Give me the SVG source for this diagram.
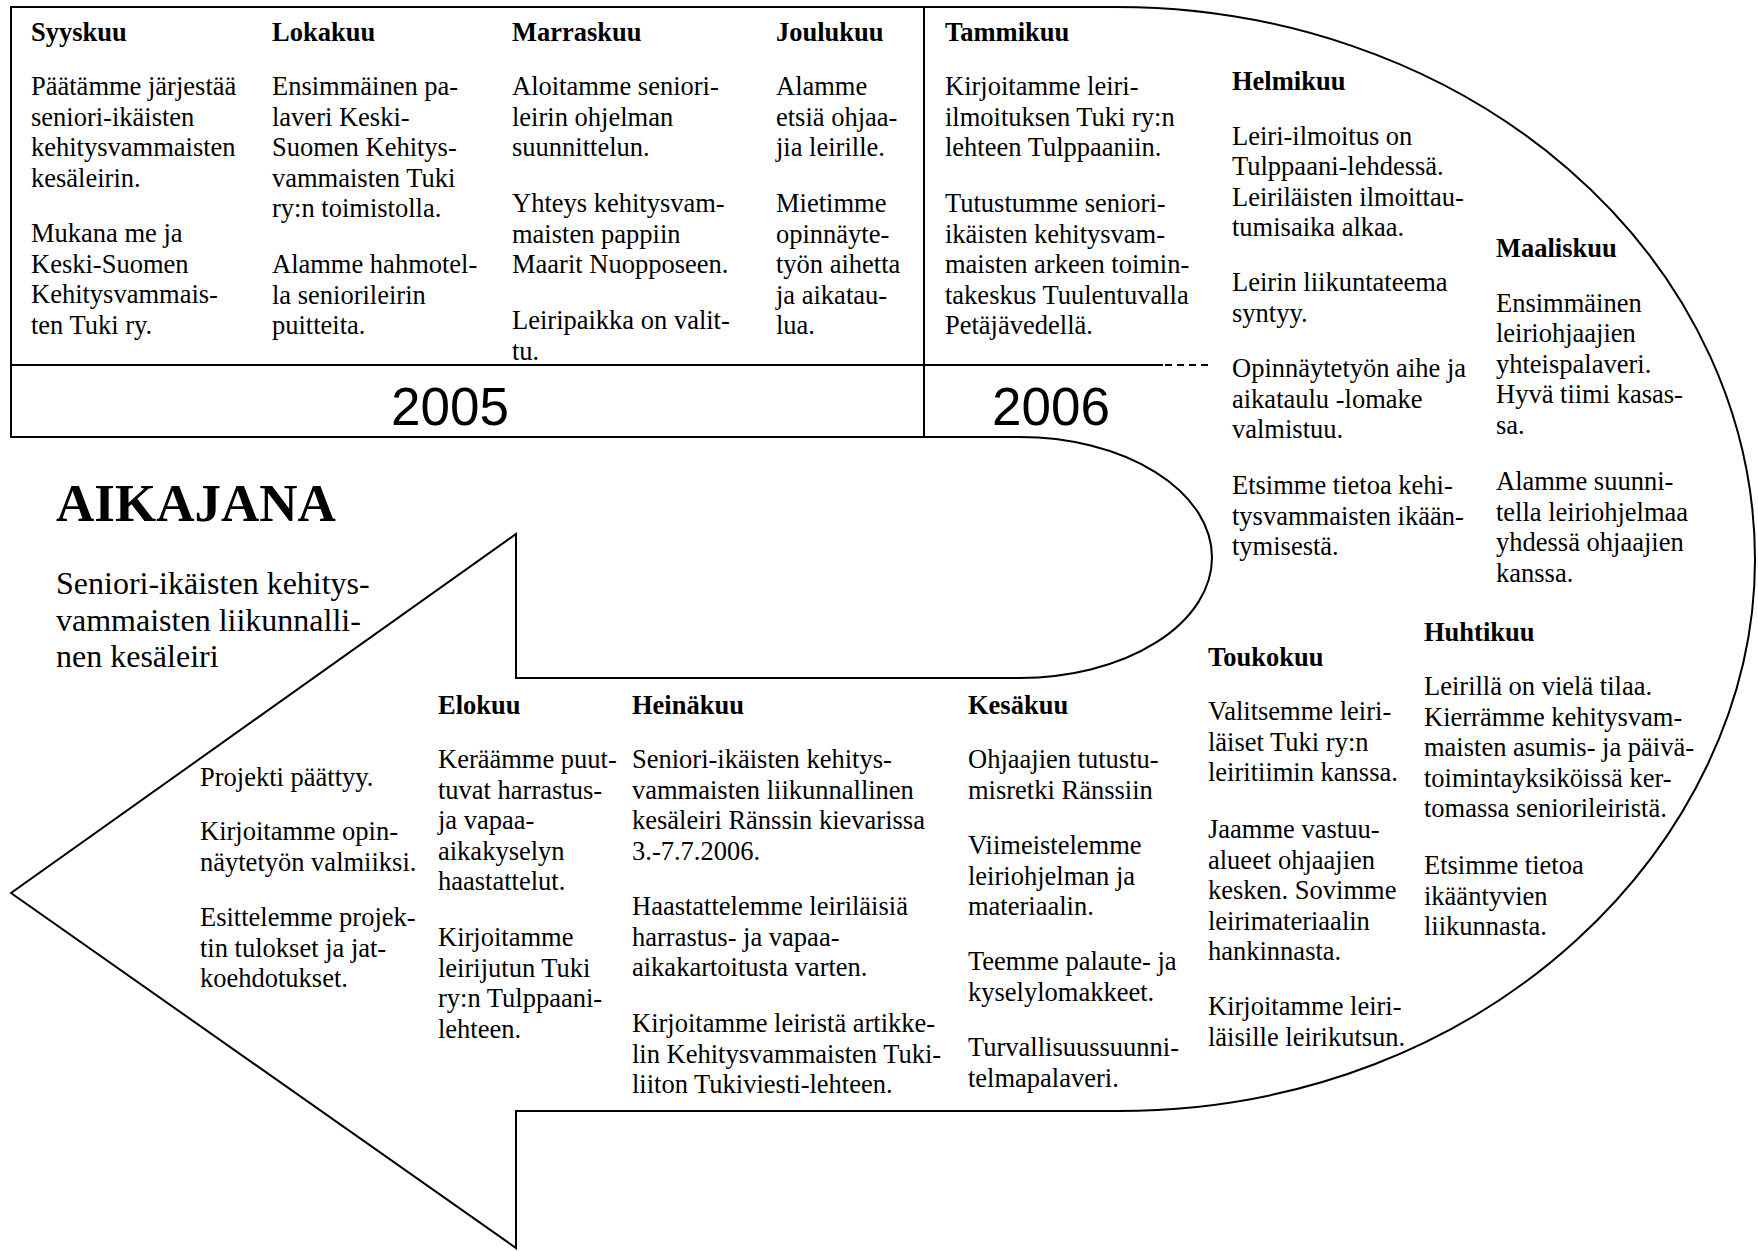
<svg xmlns="http://www.w3.org/2000/svg" width="1758" height="1251" viewBox="0 0 1758 1251">
<style>
text{font-family:"Liberation Serif","Times New Roman",serif;fill:#000}
.t{font-size:26.5px}
.h{font-size:26.5px;font-weight:bold}
.yr{font-family:"Liberation Sans",Arial,sans-serif;font-size:53px;text-anchor:middle}
.ttl{font-size:53px;font-weight:bold}
.sub{font-size:32px}
.ln{fill:none;stroke:#000;stroke-width:2}
.dash{fill:none;stroke:#000;stroke-width:2;stroke-dasharray:7 5}
</style>
<rect width="1758" height="1251" fill="#fff"/>
<g id="connectors">
<path class="ln" d="M 11 7 H 1117 A 638 553 0 0 1 1755 560 C 1755 840 1490 1111 1118 1111 H 516 V 1248 L 11 893 L 516 534 V 678 H 1020 A 192 120.5 0 0 0 1020 437 H 11 Z"/>
<line class="ln" x1="924" y1="7" x2="924" y2="437"/>
<line class="ln" x1="11" y1="365" x2="1163" y2="365"/>
<line class="dash" x1="1165" y1="365" x2="1212" y2="365"/>
</g>
<g id="years">
<text class="yr" x="450" y="425">2005</text>
<text class="yr" x="1051" y="425">2006</text>
</g>
<g id="title">
<text class="ttl" x="56" y="521">AIKAJANA</text>
<text class="sub"><tspan x="56" y="594">Seniori-ikäisten kehitys-</tspan><tspan x="56" y="630.5">vammaisten liikunnalli-</tspan><tspan x="56" y="667">nen kesäleiri</tspan></text>
</g>
<g id="syyskuu">
<text class="h" x="31" y="41">Syyskuu</text>
<text class="t"><tspan x="31" y="95">Päätämme järjestää</tspan><tspan x="31" y="125.5">seniori-ikäisten</tspan><tspan x="31" y="156">kehitysvammaisten</tspan><tspan x="31" y="186.5">kesäleirin.</tspan><tspan x="31" y="242">Mukana me ja</tspan><tspan x="31" y="272.5">Keski-Suomen</tspan><tspan x="31" y="303">Kehitysvammais-</tspan><tspan x="31" y="333.5">ten Tuki ry.</tspan></text>
</g>
<g id="lokakuu">
<text class="h" x="272" y="41">Lokakuu</text>
<text class="t"><tspan x="272" y="95">Ensimmäinen pa-</tspan><tspan x="272" y="125.5">laveri Keski-</tspan><tspan x="272" y="156">Suomen Kehitys-</tspan><tspan x="272" y="186.5">vammaisten Tuki</tspan><tspan x="272" y="217">ry:n toimistolla.</tspan><tspan x="272" y="273">Alamme hahmotel-</tspan><tspan x="272" y="303.5">la seniorileirin</tspan><tspan x="272" y="334">puitteita.</tspan></text>
</g>
<g id="marraskuu">
<text class="h" x="512" y="41">Marraskuu</text>
<text class="t"><tspan x="512" y="95">Aloitamme seniori-</tspan><tspan x="512" y="125.5">leirin ohjelman</tspan><tspan x="512" y="156">suunnittelun.</tspan><tspan x="512" y="212">Yhteys kehitysvam-</tspan><tspan x="512" y="242.5">maisten pappiin</tspan><tspan x="512" y="273">Maarit Nuopposeen.</tspan><tspan x="512" y="329">Leiripaikka on valit-</tspan><tspan x="512" y="359.5">tu.</tspan></text>
</g>
<g id="joulukuu">
<text class="h" x="776" y="41">Joulukuu</text>
<text class="t"><tspan x="776" y="95">Alamme</tspan><tspan x="776" y="125.5">etsiä ohjaa-</tspan><tspan x="776" y="156">jia leirille.</tspan><tspan x="776" y="212">Mietimme</tspan><tspan x="776" y="242.5">opinnäyte-</tspan><tspan x="776" y="273">työn aihetta</tspan><tspan x="776" y="303.5">ja aikatau-</tspan><tspan x="776" y="334">lua.</tspan></text>
</g>
<g id="tammikuu">
<text class="h" x="945" y="41">Tammikuu</text>
<text class="t"><tspan x="945" y="95">Kirjoitamme leiri-</tspan><tspan x="945" y="125.5">ilmoituksen Tuki ry:n</tspan><tspan x="945" y="156">lehteen Tulppaaniin.</tspan><tspan x="945" y="212">Tutustumme seniori-</tspan><tspan x="945" y="242.5">ikäisten kehitysvam-</tspan><tspan x="945" y="273">maisten arkeen toimin-</tspan><tspan x="945" y="303.5">takeskus Tuulentuvalla</tspan><tspan x="945" y="334">Petäjävedellä.</tspan></text>
</g>
<g id="helmikuu">
<text class="h" x="1232" y="89.5">Helmikuu</text>
<text class="t"><tspan x="1232" y="144.5">Leiri-ilmoitus on</tspan><tspan x="1232" y="175">Tulppaani-lehdessä.</tspan><tspan x="1232" y="205.5">Leiriläisten ilmoittau-</tspan><tspan x="1232" y="236">tumisaika alkaa.</tspan><tspan x="1232" y="291">Leirin liikuntateema</tspan><tspan x="1232" y="321.5">syntyy.</tspan><tspan x="1232" y="377">Opinnäytetyön aihe ja</tspan><tspan x="1232" y="407.5">aikataulu -lomake</tspan><tspan x="1232" y="438">valmistuu.</tspan><tspan x="1232" y="494">Etsimme tietoa kehi-</tspan><tspan x="1232" y="524.5">tysvammaisten ikään-</tspan><tspan x="1232" y="555">tymisestä.</tspan></text>
</g>
<g id="maaliskuu">
<text class="h" x="1496" y="257">Maaliskuu</text>
<text class="t"><tspan x="1496" y="311.5">Ensimmäinen</tspan><tspan x="1496" y="342">leiriohjaajien</tspan><tspan x="1496" y="372.5">yhteispalaveri.</tspan><tspan x="1496" y="403">Hyvä tiimi kasas-</tspan><tspan x="1496" y="433.5">sa.</tspan><tspan x="1496" y="490">Alamme suunni-</tspan><tspan x="1496" y="520.5">tella leiriohjelmaa</tspan><tspan x="1496" y="551">yhdessä ohjaajien</tspan><tspan x="1496" y="581.5">kanssa.</tspan></text>
</g>
<g id="huhtikuu">
<text class="h" x="1424" y="641">Huhtikuu</text>
<text class="t"><tspan x="1424" y="695">Leirillä on vielä tilaa.</tspan><tspan x="1424" y="725.5">Kierrämme kehitysvam-</tspan><tspan x="1424" y="756">maisten asumis- ja päivä-</tspan><tspan x="1424" y="786.5">toimintayksiköissä ker-</tspan><tspan x="1424" y="817">tomassa seniorileiristä.</tspan><tspan x="1424" y="874">Etsimme tietoa</tspan><tspan x="1424" y="904.5">ikääntyvien</tspan><tspan x="1424" y="935">liikunnasta.</tspan></text>
</g>
<g id="toukokuu">
<text class="h" x="1208" y="666">Toukokuu</text>
<text class="t"><tspan x="1208" y="720">Valitsemme leiri-</tspan><tspan x="1208" y="750.5">läiset Tuki ry:n</tspan><tspan x="1208" y="781">leiritiimin kanssa.</tspan><tspan x="1208" y="838">Jaamme vastuu-</tspan><tspan x="1208" y="868.5">alueet ohjaajien</tspan><tspan x="1208" y="899">kesken. Sovimme</tspan><tspan x="1208" y="929.5">leirimateriaalin</tspan><tspan x="1208" y="960">hankinnasta.</tspan><tspan x="1208" y="1015">Kirjoitamme leiri-</tspan><tspan x="1208" y="1045.5">läisille leirikutsun.</tspan></text>
</g>
<g id="kesakuu">
<text class="h" x="968" y="714">Kesäkuu</text>
<text class="t"><tspan x="968" y="768">Ohjaajien tutustu-</tspan><tspan x="968" y="798.5">misretki Ränssiin</tspan><tspan x="968" y="854">Viimeistelemme</tspan><tspan x="968" y="884.5">leiriohjelman ja</tspan><tspan x="968" y="915">materiaalin.</tspan><tspan x="968" y="970">Teemme palaute- ja</tspan><tspan x="968" y="1000.5">kyselylomakkeet.</tspan><tspan x="968" y="1056">Turvallisuussuunni-</tspan><tspan x="968" y="1086.5">telmapalaveri.</tspan></text>
</g>
<g id="heinakuu">
<text class="h" x="632" y="714">Heinäkuu</text>
<text class="t"><tspan x="632" y="768">Seniori-ikäisten kehitys-</tspan><tspan x="632" y="798.5">vammaisten liikunnallinen</tspan><tspan x="632" y="829">kesäleiri Ränssin kievarissa</tspan><tspan x="632" y="859.5">3.-7.7.2006.</tspan><tspan x="632" y="915">Haastattelemme leiriläisiä</tspan><tspan x="632" y="945.5">harrastus- ja vapaa-</tspan><tspan x="632" y="976">aikakartoitusta varten.</tspan><tspan x="632" y="1032">Kirjoitamme leiristä artikke-</tspan><tspan x="632" y="1062.5">lin Kehitysvammaisten Tuki-</tspan><tspan x="632" y="1093">liiton Tukiviesti-lehteen.</tspan></text>
</g>
<g id="elokuu">
<text class="h" x="438" y="714">Elokuu</text>
<text class="t"><tspan x="438" y="768">Keräämme puut-</tspan><tspan x="438" y="798.5">tuvat harrastus-</tspan><tspan x="438" y="829">ja vapaa-</tspan><tspan x="438" y="859.5">aikakyselyn</tspan><tspan x="438" y="890">haastattelut.</tspan><tspan x="438" y="946">Kirjoitamme</tspan><tspan x="438" y="976.5">leirijutun Tuki</tspan><tspan x="438" y="1007">ry:n Tulppaani-</tspan><tspan x="438" y="1037.5">lehteen.</tspan></text>
</g>
<g id="projekti">
<text class="t"><tspan x="200" y="786">Projekti päättyy.</tspan><tspan x="200" y="840">Kirjoitamme opin-</tspan><tspan x="200" y="870.5">näytetyön valmiiksi.</tspan><tspan x="200" y="926">Esittelemme projek-</tspan><tspan x="200" y="956.5">tin tulokset ja jat-</tspan><tspan x="200" y="987">koehdotukset.</tspan></text>
</g>
</svg>
